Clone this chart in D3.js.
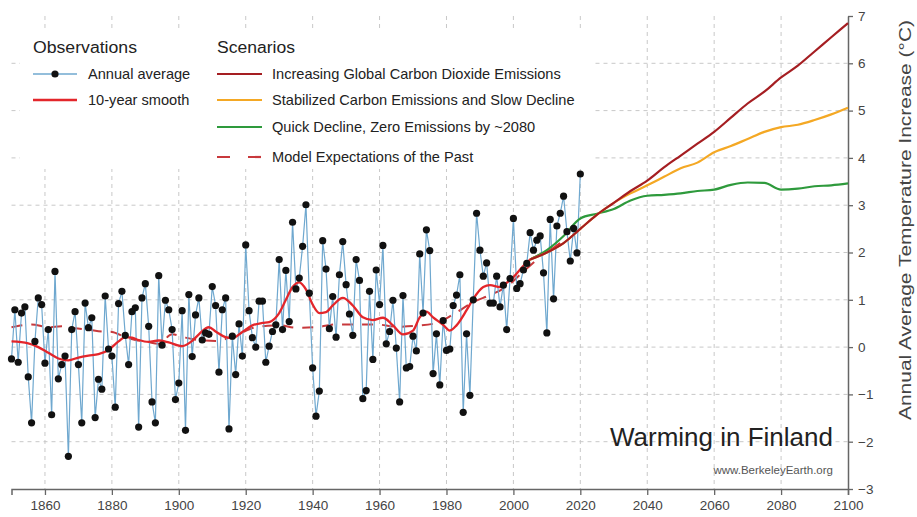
<!DOCTYPE html>
<html>
<head>
<meta charset="utf-8">
<script src="https://cdn.jsdelivr.net/npm/d3@7"></script>
<style>
  html, body { margin: 0; padding: 0; background: #fff; }
  svg { display: block; font-family: "Liberation Sans", Arial, sans-serif; }
</style>
</head>
<body>
<svg id="chart" width="917" height="517"></svg>
<script>
// ---------- DATA ----------
const annualStartYear = 1850;
const annualValues = [
  -0.25, 0.79, -0.32, 0.72, 0.85, -0.63, -1.6, 0.12, 1.04, 0.9,
  -0.34, 0.37, -1.43, 1.6, -0.67, -0.37, -0.19, -2.31, 0.37, 0.75,
  -0.37, -1.6, 0.93, 0.41, 0.62, -1.49, -0.68, -0.89, 1.08, -0.04,
  -0.19, -1.27, 0.92, 1.18, 0.25, -0.37, 0.75, 0.83, -1.69, 1.04,
  1.34, 0.44, -1.16, -1.6, 1.51, 0.04, 0.99, 0.79, 0.37, -1.11,
  -0.76, 0.77, -1.76, 1.11, -0.2, 0.68, 1.04, 0.15, 0.3, 0.27,
  1.28, 0.88, -0.53, 0.79, 1.04, -1.73, 0.23, -0.58, 0.49, -0.19,
  2.16, 0.77, 0.2, 0.0, 0.97, 0.97, -0.32, 0.02, 0.33, 0.47,
  1.85, 0.37, 1.62, 0.54, 2.64, 1.23, 1.46, 2.13, 3.01, 1.14,
  -0.44, -1.46, -0.93, 2.25, 1.65, 0.39, 1.07, 0.21, 1.53, 2.23,
  1.32, 0.7, 0.25, 1.85, 1.41, -1.09, -0.92, 1.18, -0.26, 1.63,
  0.9, 2.15, 0.07, 0.33, 0.99, -0.02, -1.16, 1.09, -0.44, -0.41,
  0.23, -0.08, 1.97, 0.72, 2.48, 2.04, -0.56, 0.28, -0.8, 0.56,
  -0.07, -0.04, 0.88, 1.1, 1.53, -1.38, 0.28, -1.02, 1.0, 2.83,
  2.05, 1.5, 1.78, 0.93, 0.93, 1.5, 0.85, 1.31, 0.37, 1.45,
  2.72, 1.24, 1.34, 1.63, 1.77, 2.42, 2.05, 2.26, 2.35, 1.57,
  0.3, 2.7, 1.02, 2.56, 2.83, 3.19, 2.44, 1.82, 2.51, 1.99,
  3.66
];

const smoothYears  = [1850,1855,1858,1861,1864,1867,1870,1873,1876,1879,1882,1884,1886,1888,1891,1894,1897,1901,1904,1906,1909,1911,1914,1916,1919,1922,1925,1927,1930,1932,1934,1936,1938,1940,1942,1944,1946,1949,1952,1955,1958,1961,1964,1967,1970,1972,1974,1976,1979,1981,1983,1986,1988,1991,1993,1996,1998,2000,2003,2005,2008,2011,2014];
const smoothValues = [0.12,0.08,0.0,-0.12,-0.24,-0.28,-0.22,-0.18,-0.15,-0.06,0.12,0.21,0.2,0.15,0.11,0.14,0.1,0.02,0.13,0.27,0.42,0.33,0.21,0.19,0.32,0.46,0.51,0.53,0.72,1.0,1.27,1.37,1.22,0.9,0.72,0.74,0.88,1.04,0.88,0.63,0.57,0.62,0.46,0.27,0.35,0.63,0.75,0.63,0.47,0.35,0.46,0.78,1.02,1.27,1.31,1.27,1.36,1.48,1.72,1.85,1.95,2.05,2.2];

const pastModelYears  = [1850,1856,1861,1865,1869,1873,1877,1880,1884,1887,1890,1894,1898,1902,1906,1911,1917,1923,1930,1935,1941,1947,1953,1959,1965,1971,1977,1982,1988,1993,1998,2003,2007];
const pastModelValues = [0.42,0.48,0.42,0.44,0.4,0.37,0.33,0.32,0.21,0.15,0.12,0.07,0.27,0.2,0.15,0.13,0.25,0.42,0.46,0.41,0.42,0.48,0.48,0.48,0.43,0.45,0.51,0.69,0.95,1.1,1.28,1.6,1.85];

const scenarioYears = [2005,2010,2015,2020,2025,2030,2035,2040,2045,2050,2055,2060,2065,2070,2075,2080,2085,2090,2095,2100];
const highValues    = [1.85,2.0,2.2,2.5,2.8,3.05,3.3,3.52,3.8,4.05,4.3,4.55,4.85,5.15,5.4,5.7,5.95,6.25,6.55,6.85];
const midValues     = [1.85,2.0,2.2,2.5,2.8,3.05,3.25,3.42,3.6,3.78,3.9,4.12,4.25,4.4,4.55,4.65,4.7,4.8,4.92,5.06];
const lowValues     = [1.85,2.05,2.35,2.72,2.82,2.92,3.1,3.2,3.22,3.25,3.3,3.33,3.43,3.48,3.47,3.33,3.35,3.4,3.42,3.46];

const xTicks = [1860,1880,1900,1920,1940,1960,1980,2000,2020,2040,2060,2080,2100];
const yTicks = [-3,-2,-1,0,1,2,3,4,5,6,7];

// ---------- LAYOUT ----------
const svg = d3.select("#chart");
const pL = 11.5, pR = 848, pT = 16, pB = 489;
const x = d3.scaleLinear().domain([1850, 2100]).range([pL, pR]);
const y = d3.scaleLinear().domain([-3, 7]).range([pB, pT]);

const C = {
  grid: "#c8c8c8", axis: "#666", text: "#444",
  blue: "#6fa8cf", smooth: "#e3262b", high: "#a51e22",
  mid: "#f4a824", low: "#2e9a3c", past: "#c8393c"
};

// grid
const g = svg.append("g");
g.selectAll("line.hg").data(yTicks.filter(v => v > -3 && v < 7)).join("line")
  .attr("x1", pL).attr("x2", pR)
  .attr("y1", d => y(d)).attr("y2", d => y(d))
  .attr("stroke", C.grid).attr("stroke-width", 1).attr("stroke-dasharray", "4,4");
g.selectAll("line.vg").data(xTicks.filter(v => v < 2100)).join("line")
  .attr("x1", d => x(d)).attr("x2", d => x(d))
  .attr("y1", pT).attr("y2", pB)
  .attr("stroke", C.grid).attr("stroke-width", 1).attr("stroke-dasharray", "4,4");

// legend background
svg.append("rect").attr("x", 20).attr("y", 29).attr("width", 572).attr("height", 140).attr("fill", "#fff");

// axes
const xAxis = d3.axisBottom(x).tickValues(xTicks).tickFormat(d3.format("d")).tickSizeInner(6).tickSizeOuter(6).tickPadding(5);
const gx = svg.append("g").attr("transform", `translate(0,${pB})`).call(xAxis);
const yAxis = d3.axisRight(y).tickValues(yTicks).tickSizeInner(5).tickSizeOuter(0).tickPadding(5);
const gy = svg.append("g").attr("transform", `translate(${pR},0)`).call(yAxis);
[gx, gy].forEach(a => {
  a.select(".domain").attr("stroke", C.axis).attr("stroke-width", 1.5);
  a.selectAll(".tick line").attr("stroke", C.axis).attr("stroke-width", 1.3);
  a.selectAll(".tick text").attr("fill", C.text).attr("font-size", 13.5).attr("font-family", "Liberation Sans, Arial, sans-serif");
});

svg.append("text")
  .attr("transform", `translate(911,220) rotate(-90)`)
  .attr("text-anchor", "middle").attr("fill", "#444").attr("font-size", 16.5)
  .attr("textLength", 400).attr("lengthAdjust", "spacingAndGlyphs")
  .text("Annual Average Temperature Increase (°C)");

// data
const annual = annualValues.map((v, i) => ({ year: annualStartYear + i, v }));
const zip = (ys, vs) => ys.map((yr, i) => ({ year: yr, v: vs[i] }));

const lineLin = d3.line().x(d => x(d.year)).y(d => y(d.v));
const lineSmooth = d3.line().x(d => x(d.year)).y(d => y(d.v)).curve(d3.curveMonotoneX);

svg.append("path").datum(zip(pastModelYears, pastModelValues)).attr("d", lineSmooth)
  .attr("fill", "none").attr("stroke", C.past).attr("stroke-width", 2).attr("stroke-dasharray", "11,9");

svg.append("path").datum(annual).attr("d", lineLin)
  .attr("fill", "none").attr("stroke", C.blue).attr("stroke-width", 1.2);

svg.append("path").datum(zip(smoothYears, smoothValues)).attr("d", lineSmooth)
  .attr("fill", "none").attr("stroke", C.smooth).attr("stroke-width", 2.3);

[[lowValues, C.low], [midValues, C.mid], [highValues, C.high]].forEach(([vals, col]) => {
  svg.append("path").datum(zip(scenarioYears, vals)).attr("d", lineSmooth)
    .attr("fill", "none").attr("stroke", col).attr("stroke-width", 2.2);
});

svg.append("g").selectAll("circle").data(annual).join("circle")
  .attr("cx", d => x(d.year)).attr("cy", d => y(d.v)).attr("r", 3.6).attr("fill", "#111");

// legend
const L = svg.append("g").attr("font-size", 14.6).attr("fill", "#222");
L.append("text").attr("x", 33).attr("y", 53).attr("font-size", 16).attr("textLength", 104).attr("lengthAdjust", "spacingAndGlyphs").text("Observations");
L.append("text").attr("x", 217).attr("y", 53).attr("font-size", 16).attr("textLength", 78).attr("lengthAdjust", "spacingAndGlyphs").text("Scenarios");
const obsRows = [
  { label: "Annual average", y: 74, color: C.blue, dot: true, w: 1.3 },
  { label: "10-year smooth", y: 100, color: C.smooth, dot: false, w: 2.3 }
];
obsRows.forEach(r => {
  L.append("line").attr("x1", 33).attr("x2", 77).attr("y1", r.y).attr("y2", r.y).attr("stroke", r.color).attr("stroke-width", r.w);
  if (r.dot) L.append("circle").attr("cx", 55).attr("cy", r.y).attr("r", 3.6).attr("fill", "#111");
  L.append("text").attr("x", 88).attr("y", r.y + 5).text(r.label);
});
const scRows = [
  { label: "Increasing Global Carbon Dioxide Emissions", y: 74, color: C.high, dash: null },
  { label: "Stabilized Carbon Emissions and Slow Decline", y: 100, color: C.mid, dash: null },
  { label: "Quick Decline, Zero Emissions by ~2080", y: 127, color: C.low, dash: null },
  { label: "Model Expectations of the Past", y: 157, color: C.past, dash: "13,18" }
];
scRows.forEach(r => {
  const ln = L.append("line").attr("x1", 217).attr("x2", 262).attr("y1", r.y).attr("y2", r.y)
    .attr("stroke", r.color).attr("stroke-width", 2.2);
  if (r.dash) ln.attr("stroke-dasharray", r.dash);
  L.append("text").attr("x", 272).attr("y", r.y + 5).text(r.label);
});

// title + credit
svg.append("text").attr("x", 833).attr("y", 446).attr("text-anchor", "end")
  .attr("font-size", 26).attr("fill", "#222").text("Warming in Finland");
svg.append("text").attr("x", 833).attr("y", 474).attr("text-anchor", "end")
  .attr("font-size", 11.5).attr("fill", "#555").text("www.BerkeleyEarth.org");
</script>
</body>
</html>
